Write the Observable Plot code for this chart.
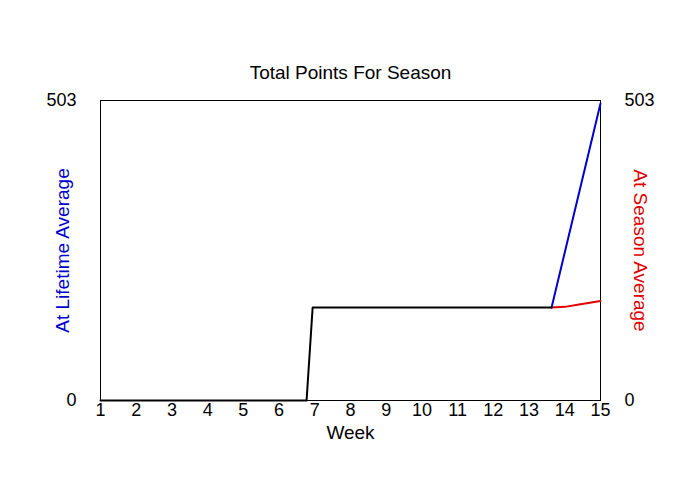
<!DOCTYPE html>
<html><head><meta charset="utf-8">
<script src="https://cdn.jsdelivr.net/npm/d3@7"></script>
<script src="https://cdn.jsdelivr.net/npm/@observablehq/plot@0.6"></script>
<style>body{margin:0;background:#fff}</style>
</head><body><div id="chart"></div>
<script>
const title = "Total Points For Season";
const xLabel = "Week";
const leftLabel = "At Lifetime Average";
const rightLabel = "At Season Average";
const weekTicks = [1,2,3,4,5,6,7,8,9,10,11,12,13,14,15];
const yTicks = [0, 503];
// black (combined) series
const blackWeeks = [1, 6.77, 6.94, 13.63];
const blackValues = [0, 0, 156, 156];
// blue (lifetime average) series
const blueWeeks = [13.63, 15];
const blueValues = [156, 498];
// red (season average) series
const redWeeks = [13.63, 14.0, 14.4, 15];
const redValues = [156, 157, 161, 167];

const toRows = (w, v) => w.map((d, i) => ({week: d, value: v[i]}));
const font = "Liberation Sans, Arial, sans-serif";
const fs = 19;
const tfs = 18;

const plot = Plot.plot({
  width: 700, height: 500,
  marginLeft: 100, marginRight: 100, marginTop: 100, marginBottom: 100,
  style: {fontFamily: font, fontSize: fs + "px", background: "#fff", color: "#000"},
  x: {domain: [1, 15], ticks: weekTicks, tickSize: 0, tickPadding: 3, label: null},
  y: {domain: [0, 503], ticks: yTicks, tickSize: 0, label: null},
  marks: [
    Plot.frame({stroke: "#000", strokeWidth: 1}),
    Plot.axisY({ticks: yTicks, anchor: "left", tickSize: 0, tickPadding: 24, label: null, fontSize: tfs}),
    Plot.axisY({ticks: yTicks, anchor: "right", tickSize: 0, tickPadding: 24, label: null, fontSize: tfs}),
    Plot.axisX({ticks: weekTicks, tickSize: 0, tickPadding: 3, label: null, fontSize: tfs}),
    Plot.line(toRows(redWeeks, redValues), {x: "week", y: "value", stroke: "#e00000", strokeWidth: 2}),
    Plot.line(toRows(blueWeeks, blueValues), {x: "week", y: "value", stroke: "#0000cc", strokeWidth: 2}),
    Plot.line(toRows(blackWeeks, blackValues), {x: "week", y: "value", stroke: "#000", strokeWidth: 2}),
    Plot.text([title], {frameAnchor: "top", lineAnchor: "middle", dy: -28, text: d => d, fontSize: fs, fill: "#000"}),
    Plot.text([xLabel], {frameAnchor: "bottom", lineAnchor: "middle", dy: 32, text: d => d, fontSize: fs, fill: "#000"}),
    Plot.text([leftLabel], {frameAnchor: "left", dx: -38, rotate: -90, textAnchor: "middle", text: d => d, fontSize: fs, fill: "#0000cc"}),
    Plot.text([rightLabel], {frameAnchor: "right", dx: 40, rotate: 90, textAnchor: "middle", text: d => d, fontSize: fs, fill: "#e00000"})
  ]
});
document.getElementById("chart").appendChild(plot);
</script></body></html>
